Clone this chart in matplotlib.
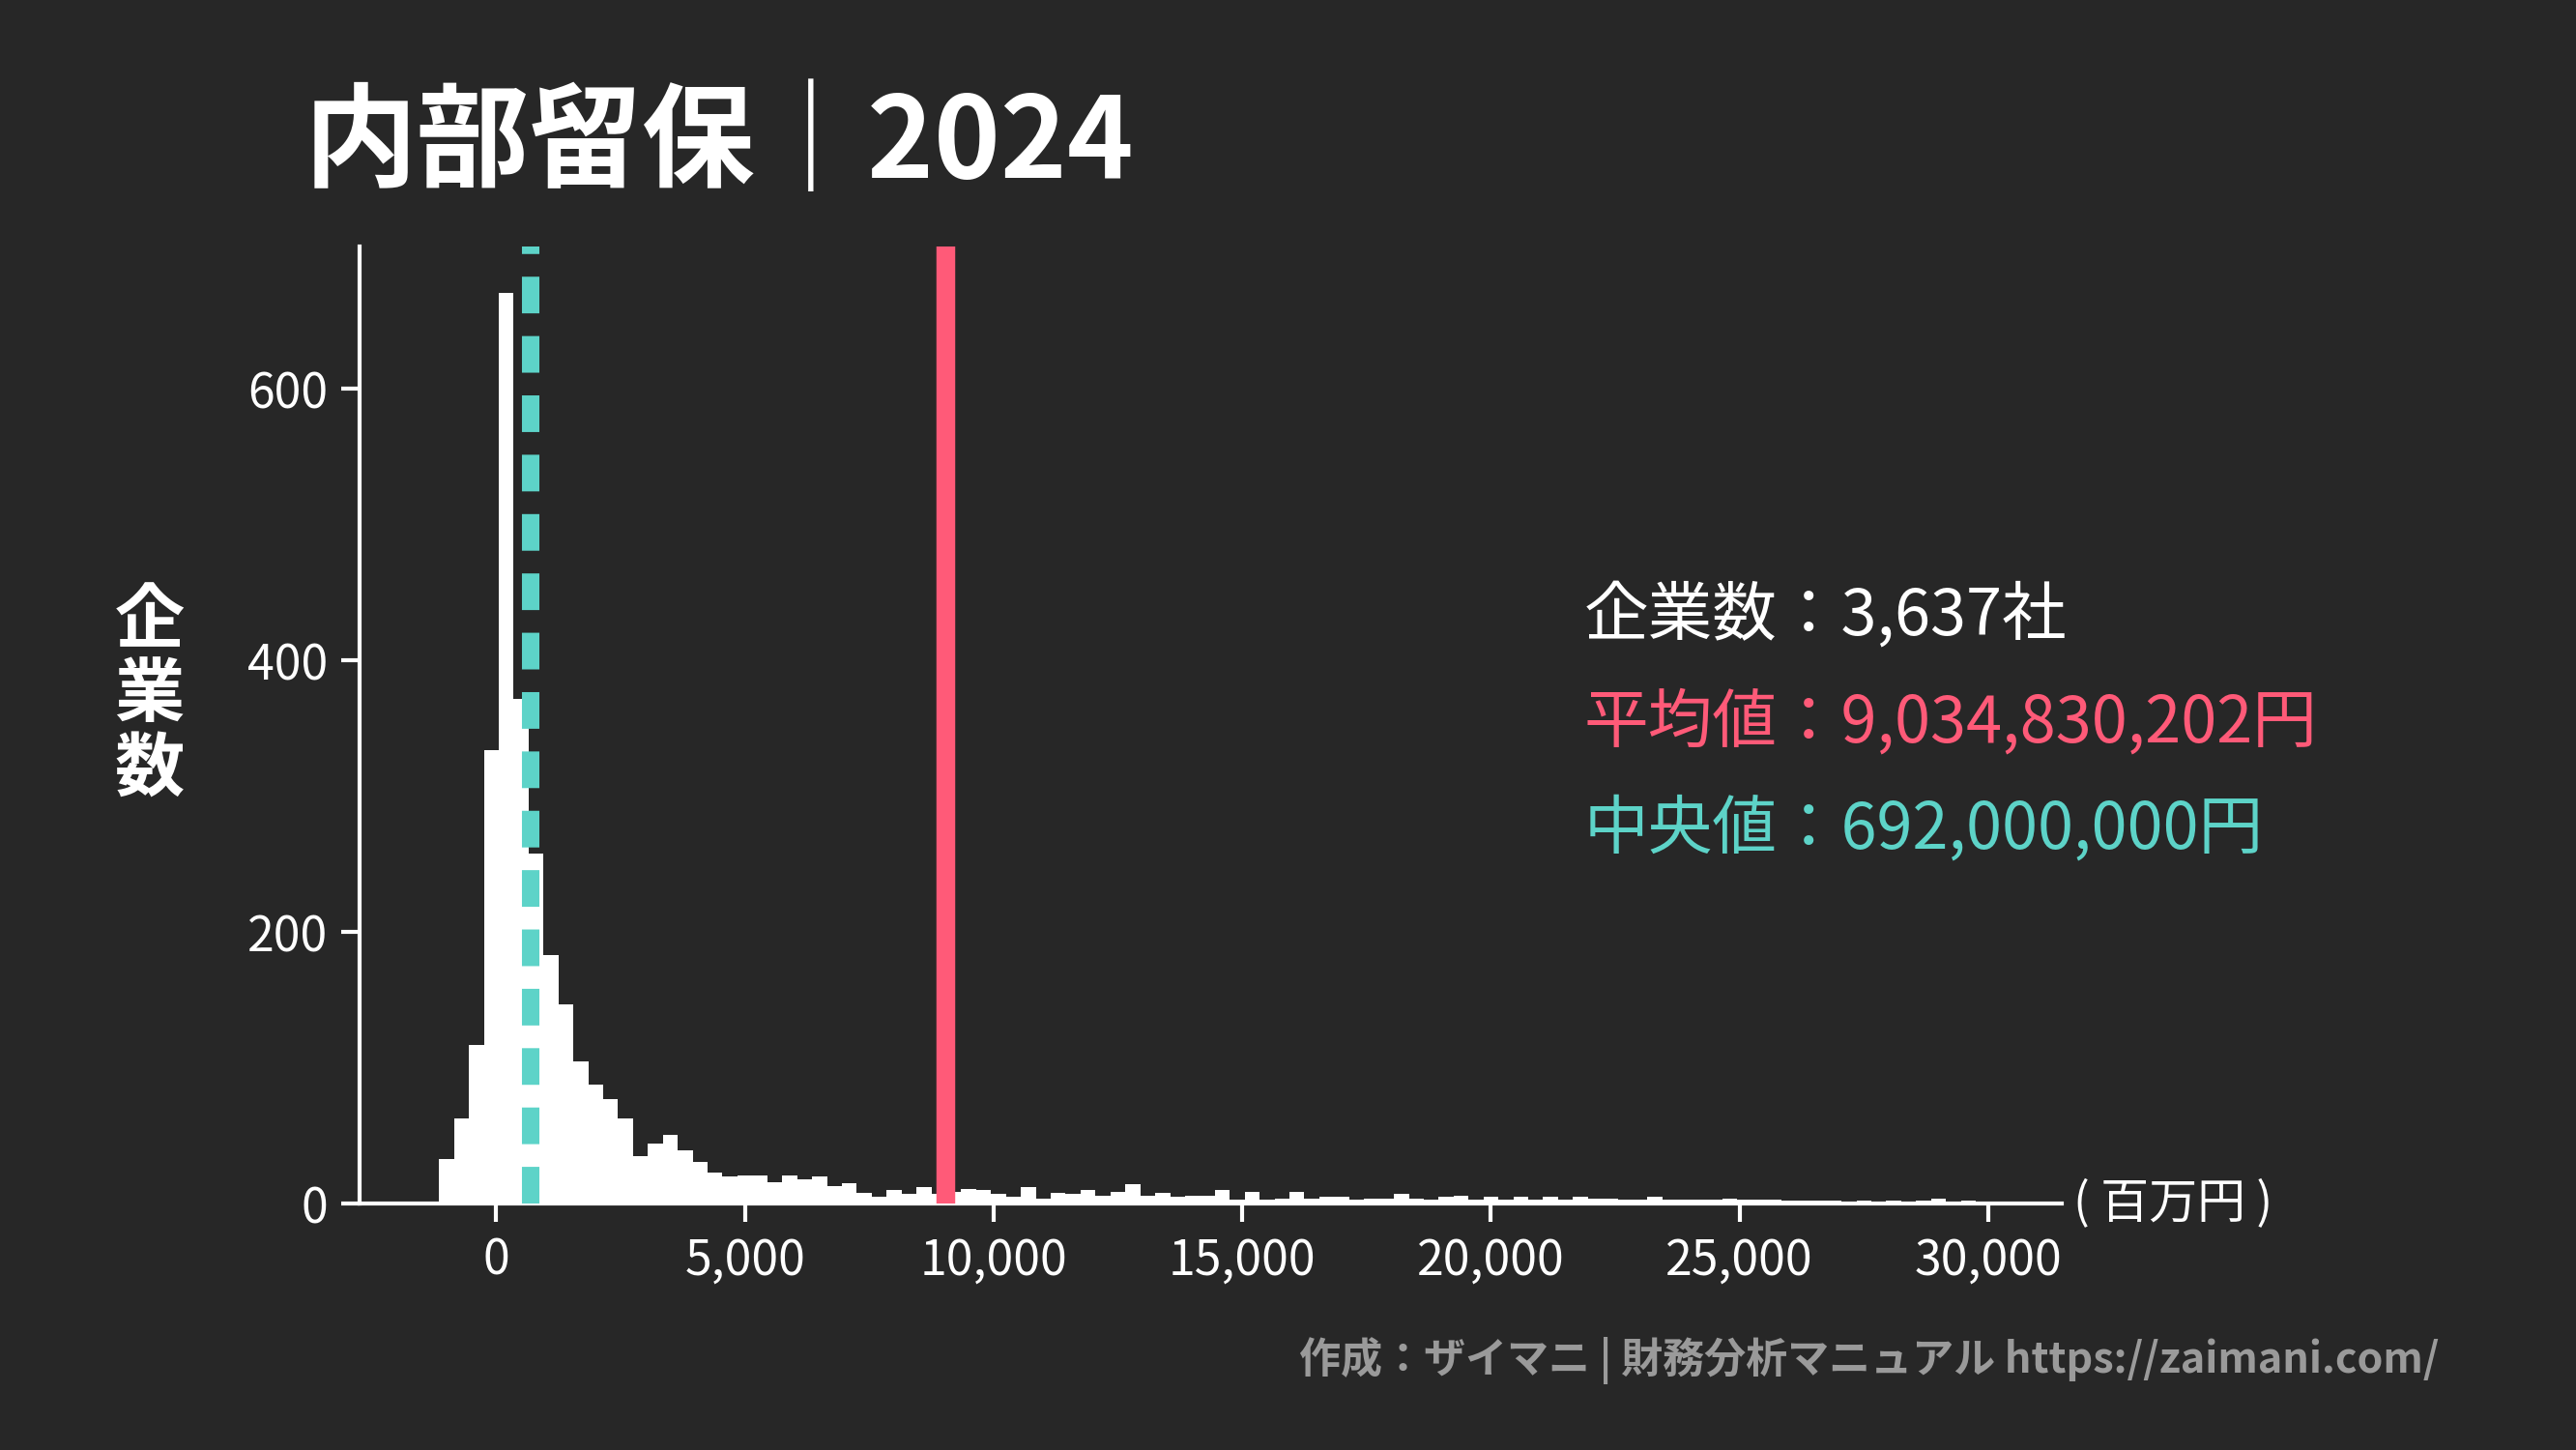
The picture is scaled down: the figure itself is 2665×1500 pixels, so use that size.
import matplotlib
matplotlib.use("Agg")
import matplotlib.pyplot as plt
import numpy as np

plt.rcParams['font.family'] = ['Noto Sans CJK JP', 'DejaVu Sans']

bin_start = -1150
bin_width = 300
counts = [33, 63, 117, 334, 671, 372, 258, 183, 147, 105, 88, 77, 63, 35, 44, 51, 39, 31,
          23, 20, 21, 21, 16, 21, 18, 20, 13, 15, 8, 5, 10, 7, 12, 7,
          9, 11, 10, 7, 5, 12, 4, 8, 7, 10, 6, 9, 14, 6, 8, 5, 6, 6, 10, 3, 9, 3, 4, 9, 4,
          5, 5, 3, 4, 4, 7, 4, 3, 5, 6, 3, 5, 3, 5, 3, 5, 3, 5, 4, 4, 3, 3, 5, 3, 3, 3, 3,
          4, 3, 3, 3, 2, 2, 2, 2, 1, 2, 1, 2, 1, 2, 4, 1, 2, 1, 1]
mean_val = 9034.830202
median_val = 692.0
n_companies = "3,637"
title = "内部留保｜2024"
xticks = [0, 5000, 10000, 15000, 20000, 25000, 30000]
yticks = [0, 200, 400, 600]

BG = '#272727'
RED = '#ff5a78'
TEAL = '#5dd3c8'

fig = plt.figure(figsize=(26.65, 15), dpi=100, facecolor=BG)
ax = fig.add_axes([0.1397, 0.1699, 0.8004 - 0.1397, 0.8301 - 0.1699])
ax.set_facecolor(BG)

edges = bin_start + bin_width * np.arange(len(counts))
ax.bar(edges, counts, width=bin_width, align='edge', color='white', linewidth=0)
ax.axvline(mean_val, color=RED, lw=14, zorder=3)
ax.axvline(median_val, color=TEAL, lw=13, ls=(0, (2.1, 1.3)), zorder=4)

ax.set_xlim(-2742, 31480)
ax.set_ylim(0, 705)
for s in ['top', 'right']:
    ax.spines[s].set_visible(False)
for s in ['left', 'bottom']:
    ax.spines[s].set_color('white')
    ax.spines[s].set_linewidth(3)
ax.set_xticks(xticks)
ax.set_xticklabels([f"{v:,}" for v in xticks])
ax.set_yticks(yticks)
ax.tick_params(colors='white', labelsize=36, width=3, length=14, pad=10)

fig.text(0.118, 0.90, title, color='white', fontsize=84, fontweight='bold', va='center')
fig.text(0.058, 0.52, "企\n業\n数", color='white', fontsize=52, fontweight='bold',
         va='center', ha='center', linespacing=1.05)
fig.text(0.805, 0.1699, "( 百万円 )", color='white', fontsize=36, va='center')
fig.text(0.615, 0.575, f"企業数：{n_companies}社", color='white', fontsize=48, va='center')
fig.text(0.615, 0.501, f"平均値：{mean_val*1e6:,.0f}円", color=RED, fontsize=48, va='center')
fig.text(0.615, 0.428, f"中央値：{median_val*1e6:,.0f}円", color=TEAL, fontsize=48, va='center')
fig.text(0.947, 0.062, "作成：ザイマニ | 財務分析マニュアル https://zaimani.com/", color='#9a9a9a',
         fontsize=31, fontweight='bold', ha='right', va='center')

fig.savefig('out.png', dpi=100, facecolor=BG)
